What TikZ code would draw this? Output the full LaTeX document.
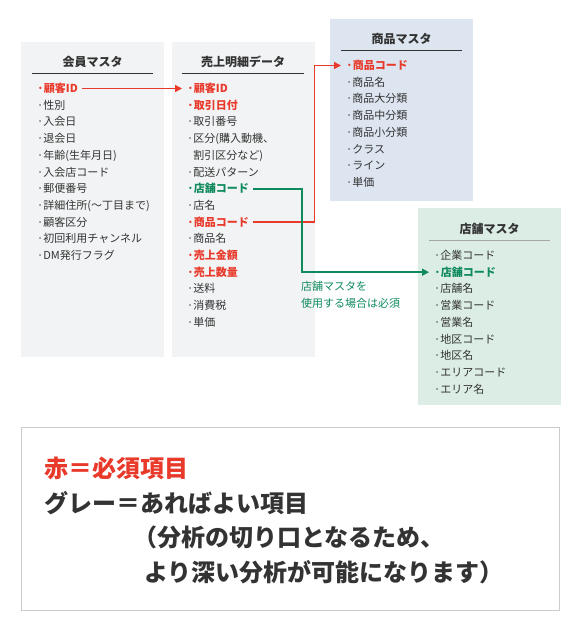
\documentclass[tikz,border=0pt]{standalone}
\usepackage{fontspec}
\setmainfont{Noto Sans CJK JP}
\usetikzlibrary{positioning,arrows.meta}

\definecolor{reqred}{HTML}{E8392A}
\definecolor{shopgreen}{HTML}{0E8A5C}
\definecolor{txtgray}{HTML}{333333}
\definecolor{graybg}{HTML}{F2F3F4}
\definecolor{bluebg}{HTML}{DCE5F0}
\definecolor{greenbg}{HTML}{DBEDE5}

\begin{document}
\begin{tikzpicture}[x=1pt,y=-1pt,node distance=16.7pt,
    every node/.style={text=txtgray},
    table box/.style={inner sep=0,minimum width=143pt},
    title/.style={inner xsep=0,inner ysep=5pt,text height=10pt,text depth=2pt,text width=121pt,align=center,font=\fontsize{12}{14}\selectfont\bfseries},
    item/.style={anchor=west,inner sep=0,text height=9pt,text depth=1pt,font=\fontsize{11}{12}\selectfont},
    must/.style={item,text=reqred,font=\fontsize{11}{12}\selectfont\bfseries},
    shop/.style={item,text=shopgreen,font=\fontsize{11}{12}\selectfont\bfseries},
    rule/.style={line width=0.9pt,draw=txtgray},
    link/.style={line width=1.6pt,shorten <=4pt,shorten >=5pt,-{Triangle[length=7pt,width=7pt]}},
    big/.style={anchor=west,inner sep=0,font=\fontsize{24}{26}\selectfont\bfseries}]
    \useasboundingbox (0,0) rectangle (580,624);

    % table boxes
    \node[table box,fill=graybg,minimum height=315pt] (kaiin) at (92.5,199.5) {};
    \node[table box,fill=graybg,minimum height=315pt] (uriage) at (243,199.5) {};
    \node[table box,fill=bluebg,minimum height=182pt] (shohin) at (401.5,110) {};
    \node[table box,fill=greenbg,minimum height=197pt] (tenpo) at (489.5,306.5) {};

    % titles
    \node[title] (kaiinT) at (92.5,62) {会員マスタ};
    \node[title] (uriageT) at (243,62) {売上明細データ};
    \node[title] (shohinT) at (401.5,39) {商品マスタ};
    \node[title] (tenpoT) at (489.5,229) {店舗マスタ};
    \draw[rule] (kaiinT.south west) -- (kaiinT.south east);
    \draw[rule] (uriageT.south west) -- (uriageT.south east);
    \draw[rule] (shohinT.south west) -- (shohinT.south east);
    \draw[rule,draw=gray!70] (tenpoT.south west) -- (tenpoT.south east);

    % 会員マスタ
    \node[must] (k1) at (37,88.5) {·顧客ID};
    \node[item] (k2) [below=of k1.west,anchor=west] {·性別};
    \node[item] (k3) [below=of k2.west,anchor=west] {·入会日};
    \node[item] (k4) [below=of k3.west,anchor=west] {·退会日};
    \node[item] (k5) [below=of k4.west,anchor=west] {·年齢(生年月日)};
    \node[item] (k6) [below=of k5.west,anchor=west] {·入会店コード};
    \node[item] (k7) [below=of k6.west,anchor=west] {·郵便番号};
    \node[item] (k8) [below=of k7.west,anchor=west] {·詳細住所(〜丁目まで)};
    \node[item] (k9) [below=of k8.west,anchor=west] {·顧客区分};
    \node[item] (k10) [below=of k9.west,anchor=west] {·初回利用チャンネル};
    \node[item] (k11) [below=of k10.west,anchor=west] {·DM発行フラグ};

    % 売上明細データ
    \node[must] (u1) at (187,88.5) {·顧客ID};
    \node[must] (u2) [below=of u1.west,anchor=west] {·取引日付};
    \node[item] (u3) [below=of u2.west,anchor=west] {·取引番号};
    \node[item] (u4) [below=of u3.west,anchor=west] {·区分(購入動機、};
    \node[item] (u5) [below=of u4.west,anchor=west] {\phantom{·}割引区分など)};
    \node[item] (u6) [below=of u5.west,anchor=west] {·配送パターン};
    \node[shop] (u7) [below=of u6.west,anchor=west] {·店舗コード};
    \node[item] (u8) [below=of u7.west,anchor=west] {·店名};
    \node[must] (u9) [below=of u8.west,anchor=west] {·商品コード};
    \node[item] (u10) [below=of u9.west,anchor=west] {·商品名};
    \node[must] (u11) [below=of u10.west,anchor=west] {·売上金額};
    \node[must] (u12) [below=of u11.west,anchor=west] {·売上数量};
    \node[item] (u13) [below=of u12.west,anchor=west] {·送料};
    \node[item] (u14) [below=of u13.west,anchor=west] {·消費税};
    \node[item] (u15) [below=of u14.west,anchor=west] {·単価};

    % 商品マスタ
    \node[must] (p1) at (346,65.5) {·商品コード};
    \node[item] (p2) [below=of p1.west,anchor=west] {·商品名};
    \node[item] (p3) [below=of p2.west,anchor=west] {·商品大分類};
    \node[item] (p4) [below=of p3.west,anchor=west] {·商品中分類};
    \node[item] (p5) [below=of p4.west,anchor=west] {·商品小分類};
    \node[item] (p6) [below=of p5.west,anchor=west] {·クラス};
    \node[item] (p7) [below=of p6.west,anchor=west] {·ライン};
    \node[item] (p8) [below=of p7.west,anchor=west] {·単価};

    % 店舗マスタ
    \node[item] (t1) at (434,255.5) {·企業コード};
    \node[shop] (t2) [below=of t1.west,anchor=west] {·店舗コード};
    \node[item] (t3) [below=of t2.west,anchor=west] {·店舗名};
    \node[item] (t4) [below=of t3.west,anchor=west] {·営業コード};
    \node[item] (t5) [below=of t4.west,anchor=west] {·営業名};
    \node[item] (t6) [below=of t5.west,anchor=west] {·地区コード};
    \node[item] (t7) [below=of t6.west,anchor=west] {·地区名};
    \node[item] (t8) [below=of t7.west,anchor=west] {·エリアコード};
    \node[item] (t9) [below=of t8.west,anchor=west] {·エリア名};

    % note
    \node[item,text=shopgreen] (n1) at (301,286.5) {店舗マスタを};
    \node[item,text=shopgreen] (n2) [below=of n1.west,anchor=west] {使用する場合は必須};

    % links
    \coordinate (rbend) at (314.5,0);
    \coordinate (gbend) at (302,0);
    \draw[link,reqred] (k1.east) -- (u1.west);
    \draw[link,reqred] (u9.east) -- (u9.east -| rbend) |- (p1.west);
    \draw[link,shopgreen] (u7.east) -- (u7.east -| gbend) |- (t2.west);

    % legend
    \node[draw=black!20,line width=1pt,minimum width=538pt,minimum height=183pt] (legend) at (290,518.5) {};
    \node[big,text=reqred] (l1) at (44,468) {赤＝必須項目};
    \node[big] (l2) at (44,503) {グレー＝あればよい項目};
    \node[big] (l3) at (133,537) {（分析の切り口となるため、};
    \node[big] (l4) at (144,572) {より深い分析が可能になります）};
\end{tikzpicture}
\end{document}
